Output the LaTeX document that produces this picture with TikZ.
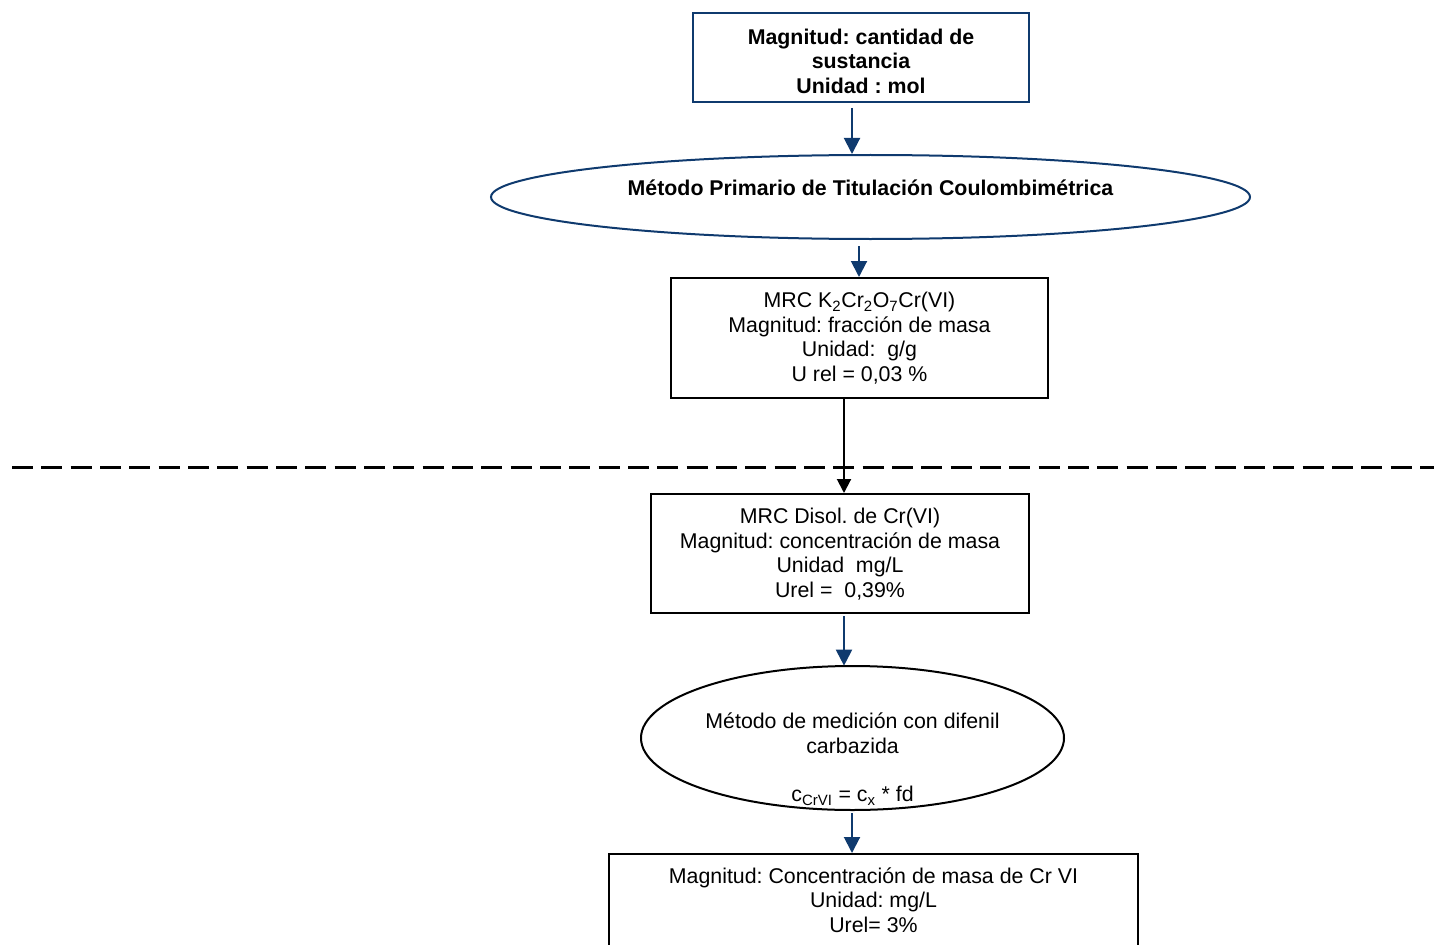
\documentclass[tikz,border=0pt]{standalone}
\usepackage{fontspec}
\setmainfont{Liberation Sans}
\usetikzlibrary{arrows.meta,shapes.geometric}
\definecolor{navy}{RGB}{15,58,110}
\frenchspacing
\begin{document}
\begin{tikzpicture}[x=0.75pt,y=-0.75pt,
  every node/.style={font=\fontsize{16}{18.4}\selectfont, align=center, inner sep=0pt},
  bluebox/.style={draw=navy, line width=1.5pt, rectangle},
  blackbox/.style={draw=black, line width=1.5pt, rectangle},
  blueell/.style={draw=navy, line width=1.5pt, ellipse},
  blackell/.style={draw=black, line width=1.5pt, ellipse},
  barr/.style={draw=navy, line width=1.5pt, -{Triangle[width=12pt,length=12pt]}},
  karr/.style={draw=black, line width=1.5pt, -{Triangle[width=10.5pt,length=10.5pt]}},
  dline/.style={draw=black, line width=2.25pt, dash pattern=on 15.75pt off 6.25pt}
]
\useasboundingbox (0,0) rectangle (1434,945);
\clip (0,0) rectangle (1434,945);

% top box
\node[bluebox, minimum width=336*0.75pt, minimum height=89*0.75pt] (top) at (861,57.5) {};
\node (toptxt) at (861,61) {\bfseries Magnitud: cantidad de\\\bfseries sustancia\\\bfseries Unidad : mol};

% ellipse 1
\node[blueell, minimum width=759*0.75pt, minimum height=84*0.75pt] (ell1) at (870.5,197) {};
\node (ell1txt) at (870.5,188) {\bfseries Método Primario de Titulación Coulombimétrica};

% MRC box
\node[blackbox, minimum width=377*0.75pt, minimum height=120*0.75pt] (mrc) at (859.5,338) {};
\node (mrctxt) at (859.5,338) {MRC K\textsubscript{2}Cr\textsubscript{2}O\textsubscript{7}Cr(VI)\\Magnitud: fracción de masa\\Unidad:\ \ g/g\\U rel = 0,03 \%};

% dashed line
\coordinate (dl) at (12,467);
\coordinate (dr) at (1434,467);
\draw[dline] (dl) -- (dr);

% Disol box
\node[blackbox, minimum width=378*0.75pt, minimum height=119*0.75pt] (dis) at (840,553.5) {};
\node (distxt) at (840,554) {MRC Disol. de Cr(VI)\\Magnitud: concentración de masa\\Unidad\ \ mg/L\\Urel =\ \ 0,39\%};

% ellipse 2
\node[blackell, minimum width=423*0.75pt, minimum height=144*0.75pt] (ell2) at (852.5,738) {};
\node (ell2txt) at (852.5,733.5) {Método de medición con difenil\\carbazida};
\node (ell2f) at (852.5,796) {c\textsubscript{CrVI} = c\textsubscript{x} * fd};

% bottom box
\node[blackbox, minimum width=529*0.75pt, minimum height=120*0.75pt, anchor=north] (bot) at (873.5,853) {};
\node (bottxt) at (873.5,900) {Magnitud: Concentración de masa de Cr VI\\Unidad: mg/L\\Urel= 3\%};

% connectors
\coordinate (xa) at (852,0);
\coordinate (xb) at (859,0);
\coordinate (xc) at (844,0);
\draw[barr, shorten <=3.75pt] (top.south -| xa) -- (ell1.north -| xa);
\draw[barr, shorten <=4.5pt] (ell1.south -| xb) -- (mrc.north -| xb);
\draw[karr] (mrc.south -| xc) -- (dis.north -| xc);
\draw[barr, shorten <=1.5pt] (dis.south -| xc) -- ([yshift=-0.5pt]ell2.north -| xc);
\draw[barr, shorten <=1.5pt] (ell2.south -| xa) -- (bot.north -| xa);
\end{tikzpicture}
\end{document}
